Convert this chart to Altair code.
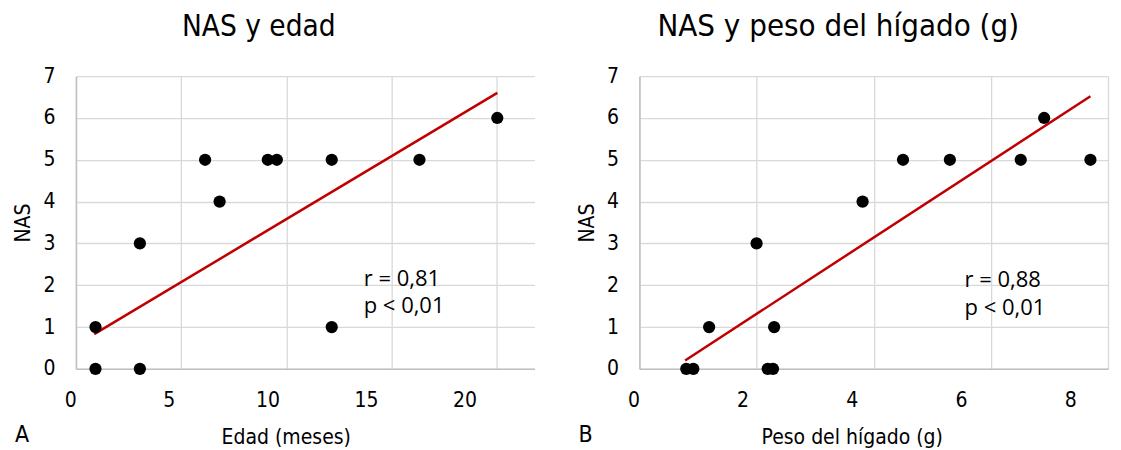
import altair as alt
import pandas as pd

# --- Panel A: NAS vs age (months)
edad_meses = [0.93, 3.04, 0.93, 3.04, 6.14, 6.83, 9.12, 9.55, 12.16, 12.16, 16.33, 20.03]
nas_edad = [0, 0, 1, 3, 5, 4, 5, 5, 5, 1, 5, 6]
trend_edad_x = [0.87, 20.03]
trend_edad_y = [0.83, 6.60]
ann_edad_text = ["r = 0,81", "p < 0,01"]
ann_edad_x = [13.68, 13.68]
ann_edad_y = [2.15, 1.50]

# --- Panel B: NAS vs liver weight (g)
peso_higado = [0.80, 0.92, 1.19, 2.00, 2.19, 2.28, 2.30, 3.81, 4.50, 5.30, 6.51, 6.91, 7.70]
nas_peso = [0, 0, 1, 3, 0, 0, 1, 4, 5, 5, 5, 6, 5]
trend_peso_x = [0.78, 7.70]
trend_peso_y = [0.20, 6.52]
ann_peso_text = ["r = 0,88", "p < 0,01"]
ann_peso_x = [5.55, 5.55]
ann_peso_y = [2.12, 1.46]

x_ticks_a = [0, 5, 10, 15, 20]
x_ticks_b = [0, 2, 4, 6, 8]
y_ticks = [0, 1, 2, 3, 4, 5, 6, 7]

FONT = "DejaVu Sans Condensed"
ANN_FONT = "Open Sans"
RED = "#C00000"


def panel(xs, ys, tx, ty, atext, ax, ay, xdom, xticks, label_shift, xtitle,
          title_x, title, title_size, tdx, letter, w):
    pts = pd.DataFrame({"x": xs, "y": ys})
    tr = pd.DataFrame({"x": tx, "y": ty})
    an = pd.DataFrame({"x": ax, "y": ay, "t": atext})
    lab = pd.DataFrame({"t": [letter]})

    xsc = alt.Scale(domain=xdom, nice=False, zero=False)
    ysc = alt.Scale(domain=[0, 7], nice=False)
    xax = alt.Axis(values=xticks, format="d", title=xtitle, titleX=title_x,
                   labelFlush=False, labelOffset={"expr": label_shift})
    yax = alt.Axis(values=y_ticks, title="NAS", labelFlush=False)

    points = alt.Chart(pts).mark_circle(size=150, color="black", opacity=1).encode(
        x=alt.X("x:Q", scale=xsc, axis=xax),
        y=alt.Y("y:Q", scale=ysc, axis=yax),
    )
    trend = alt.Chart(tr).mark_line(color=RED, strokeWidth=2.5).encode(
        x="x:Q", y="y:Q"
    )
    ann = alt.Chart(an).mark_text(
        align="left", baseline="middle", font=ANN_FONT, fontSize=22, color="black"
    ).encode(x="x:Q", y="y:Q", text="t:N")
    letter_mark = alt.Chart(lab).mark_text(
        align="center", baseline="middle", font=FONT, fontSize=23, color="black"
    ).encode(text="t:N", x=alt.value(-54), y=alt.value(359))

    return alt.layer(trend, points, ann, letter_mark).properties(
        width=w,
        height=293,
        title=alt.TitleParams(
            title, font=FONT, fontSize=title_size, fontWeight="normal", color="black",
            dx=tdx, offset=22.5, frame="group", anchor="middle",
        ),
    )


left = panel(edad_meses, nas_edad, trend_edad_x, trend_edad_y, ann_edad_text,
             ann_edad_x, ann_edad_y, [0, 21.8], x_ticks_a,
             "-5.7 - 1.32 * datum.value", "Edad (meses)", 210,
             "NAS y edad", 29.5, -46.5, "A", 459)
right = panel(peso_higado, nas_peso, trend_peso_x, trend_peso_y, ann_peso_text,
              ann_peso_x, ann_peso_y, [0, 8], x_ticks_b,
              "-6 - 3.98 * datum.value", "Peso del hígado (g)", 212.5,
              "NAS y peso del hígado (g)", 31, -35.5, "B", 469)

chart = alt.hconcat(left, right, spacing=41).configure(
    padding={"left": 4, "top": 2, "right": 5, "bottom": 0}
).configure_view(stroke=None).configure_axis(
    gridColor="#d9d9d9", gridWidth=1.3, domainColor="#bfbfbf", domainWidth=1.5,
    ticks=False, labelFont=FONT, labelFontSize=21, labelColor="black",
    titleFont=FONT, titleFontSize=21, titleFontWeight="normal", titleColor="black",
).configure_axisX(titlePadding=16, labelPadding=21).configure_axisY(
    titlePadding=9, labelPadding=21)

chart.save("out.html", embed_options={"renderer": "svg", "actions": False})
